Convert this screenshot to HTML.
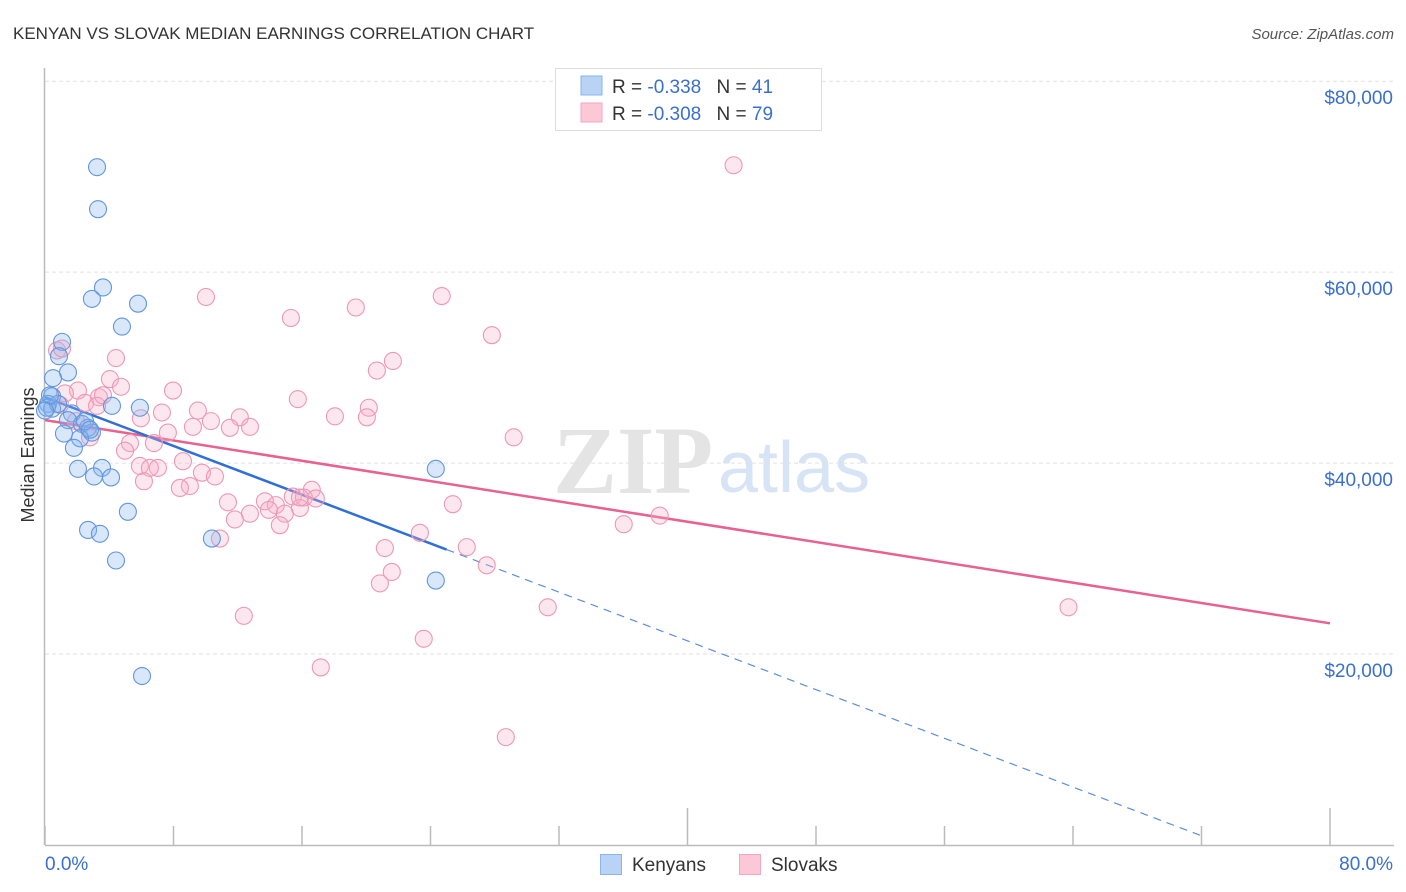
<!DOCTYPE html>
<html><head><meta charset="utf-8"><style>
body{margin:0;background:#fff;font-family:"Liberation Sans",sans-serif}
svg{display:block}
</style></head><body>
<svg id="chart" width="1406" height="892">
<text x="13" y="39" font-size="17" fill="#333">KENYAN VS SLOVAK MEDIAN EARNINGS CORRELATION CHART</text>
<text x="1394" y="39" font-size="15" fill="#555" font-style="italic" text-anchor="end">Source: ZipAtlas.com</text>
<g>
<text x="553" y="493" font-size="96" fill="#e4e4e4" font-family="Liberation Serif,serif" font-weight="bold">ZIP</text>
<text x="718" y="492" font-size="72" fill="#d6e4f5">atlas</text>
</g>
<g id="grid"></g>
<g id="axes"></g>
<text x="-455" y="34" transform="rotate(-90)" font-size="18" fill="#333" text-anchor="middle">Median Earnings</text>
<g id="lines"></g>
<g id="pts"></g>
<g>
<rect x="555.5" y="68.5" width="266" height="62" fill="#fff" stroke="#ddd"/>
<rect x="581" y="76" width="21" height="19" fill="#b8d3f5" stroke="#8ab4ea"/>
<rect x="581" y="103" width="21" height="19" fill="#fcc8d7" stroke="#f3a6bf"/>
<text x="612" y="93" font-size="19" fill="#333">R = <tspan fill="#3a6fd0">-0.338</tspan>  <tspan dx="10">N = </tspan><tspan fill="#3a6fd0"> 41</tspan></text>
<text x="612" y="120" font-size="19" fill="#333">R = <tspan fill="#3a6fd0">-0.308</tspan>  <tspan dx="10">N = </tspan><tspan fill="#3a6fd0">79</tspan></text>
</g>
<g>
<rect x="600.5" y="854.5" width="21" height="20" fill="#b8d3f5" stroke="#8ab4ea"/>
<text x="632" y="871" font-size="19" fill="#333">Kenyans</text>
<rect x="739.5" y="854.5" width="21" height="20" fill="#fcc8d7" stroke="#f3a6bf"/>
<text x="771" y="871" font-size="19" fill="#333">Slovaks</text>
</g>
</svg>
<script>
const xTicks=[0,8,16,24,32,40,48,56,64,72,80];
const yTicks=[20000,40000,60000,80000];
const yTickLabels=["$20,000","$40,000","$60,000","$80,000"];
const kenyanX=[3.24,3.30,3.61,2.92,5.79,4.79,1.06,0.87,1.43,0.50,0.44,0.19,0.44,5.91,4.17,1.68,1.43,2.30,2.68,2.92,1.18,2.18,1.80,2.05,3.55,3.05,4.11,24.33,5.16,2.68,3.42,10.39,4.42,24.33,6.04,0.12,0.81,2.49,2.80,0.31,0.0];
const kenyanY=[71.0,66.6,58.4,57.2,56.7,54.3,52.7,51.2,49.5,48.9,47.0,46.2,45.7,45.8,46.0,45.2,44.5,44.1,43.7,43.2,43.1,42.6,41.6,39.4,39.5,38.6,38.5,39.4,34.9,33.0,32.6,32.1,29.8,27.7,17.7,45.8,46.2,44.4,43.5,47.1,45.5];
const slovakX=[42.87,10.02,24.70,19.35,15.31,27.82,0.75,4.42,21.66,20.66,4.04,4.73,7.97,2.05,1.24,3.36,15.74,2.49,0.93,3.24,20.16,7.28,9.52,18.05,12.13,10.33,11.51,12.76,9.21,20.04,29.18,7.65,2.80,5.29,6.78,4.98,8.59,5.91,7.03,6.53,9.77,10.58,6.16,9.02,8.40,11.39,13.69,25.39,16.61,15.43,16.12,16.86,14.37,15.87,13.94,12.76,14.93,11.82,14.62,23.34,36.03,38.27,10.89,21.16,26.26,27.50,21.59,20.85,31.30,63.72,12.38,23.58,17.17,28.69,1.06,3.61,1.93,5.97,15.87];
const slovakY=[71.2,57.4,57.5,56.3,55.2,53.4,51.8,51.0,50.7,49.7,48.8,48.0,47.6,47.6,47.3,46.9,46.7,46.3,46.1,46.0,45.8,45.3,45.5,44.9,44.8,44.4,43.7,43.8,43.8,44.8,42.7,43.2,42.7,42.1,42.1,41.3,40.2,39.7,39.5,39.5,39.0,38.6,38.1,37.6,37.4,35.9,36.0,35.7,37.2,36.5,36.4,36.3,35.6,35.3,35.1,34.7,34.7,34.1,33.5,32.7,33.6,34.5,32.1,31.1,31.2,29.3,28.6,27.4,24.9,24.9,24.0,21.6,18.6,11.3,52.0,47.1,44.4,44.7,36.4];
const kenyanTrend=[46.9,-0.638];   // intercept (k$), slope per %
const slovakTrend=[44.5,-0.266];
const kenyanSolidEnd=25.0, kenyanDashEnd=71.9;
const NS="http://www.w3.org/2000/svg";
const sx=p=>45+p*16.0625;
const sy=v=>845-v*0.009547;
function mk(t,a,parent){const e=document.createElementNS(NS,t);for(const k in a)e.setAttribute(k,a[k]);parent.appendChild(e);return e;}
const grid=document.getElementById('grid'),axes=document.getElementById('axes');
yTicks.forEach((v,i)=>{
  const g=mk('line',{x1:45,x2:1394,y1:sy(v),y2:sy(v),stroke:'#e2e2e2','stroke-dasharray':'4,3'},grid);
  
  
  const t=mk('text',{x:1393,y:sy(v)+23,'font-size':19,fill:'#3a6fd0','text-anchor':'end'},axes);
  t.textContent=yTickLabels[i];
  
  
});
const ax=mk('line',{x1:45,x2:1394,y1:845.5,y2:845.5,stroke:'#bbb','stroke-width':1.5},axes);


const ay=mk('line',{x1:44.5,x2:44.5,y1:68,y2:845,stroke:'#bbb','stroke-width':1.5},axes);


xTicks.forEach((p,i)=>{
  const tall=(p===40||p===80);
  const tk=mk('line',{x1:sx(p),x2:sx(p),y1:tall?808:826,y2:845,stroke:'#bbb','stroke-width':1.5},axes);
  
  
});
const xl0=mk('text',{x:45,y:870,'font-size':19,fill:'#3a6fd0'},axes);xl0.textContent=xTicks[0].toFixed(1)+'%';


const xl1=mk('text',{x:1393,y:870,'font-size':19,fill:'#3a6fd0','text-anchor':'end'},axes);xl1.textContent=xTicks[xTicks.length-1].toFixed(1)+'%';


const pts=document.getElementById('pts');
slovakX.forEach((x,i)=>{
  const c=mk('circle',{cx:sx(x),cy:sy(slovakY[i]*1000),r:8.5,fill:'rgba(248,175,198,0.3)',stroke:'#ee97b4','stroke-width':1.1},pts);
  
  
});
kenyanX.forEach((x,i)=>{
  const c=mk('circle',{cx:sx(x),cy:sy(kenyanY[i]*1000),r:8.5,fill:'rgba(135,180,238,0.32)',stroke:'#6396de','stroke-width':1.1},pts);
  
  
});
const lines=document.getElementById('lines');
const ty=(t,p)=>sy((t[0]+t[1]*p)*1000);
const pl=mk('line',{x1:sx(0),y1:ty(slovakTrend,0),x2:sx(80),y2:ty(slovakTrend,80),stroke:'#e8618f','stroke-width':2.5},lines);


const bl=mk('line',{x1:sx(0),y1:ty(kenyanTrend,0),x2:sx(kenyanSolidEnd),y2:ty(kenyanTrend,kenyanSolidEnd),stroke:'#2f6fd6','stroke-width':2.5},lines);


const bd=mk('line',{x1:sx(kenyanSolidEnd),y1:ty(kenyanTrend,kenyanSolidEnd),x2:sx(kenyanDashEnd),y2:ty(kenyanTrend,kenyanDashEnd),stroke:'#5a8fdc','stroke-width':1.2,'stroke-dasharray':'8,6'},lines);


</script>
</body></html>
